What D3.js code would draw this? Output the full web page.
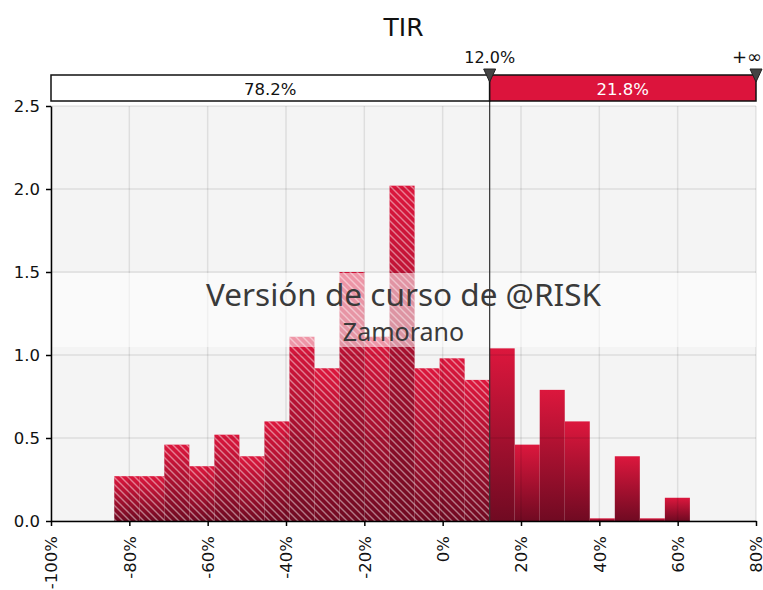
<!DOCTYPE html>
<html>
<head>
<meta charset="utf-8">
<script src="https://cdn.jsdelivr.net/npm/d3@7"></script>
<style>
  body { margin: 0; background: #fff; }
  svg text { font-family: "DejaVu Sans", sans-serif; }
</style>
</head>
<body>
<div id="chart"></div>
<script>
// histogram of TIR, bins in percent
const binEdges = [-83.85, -77.46, -71.07, -64.68, -58.29, -51.90, -45.51, -39.12, -32.73, -26.34,
  -19.95, -13.56, -7.17, -0.78, 5.61, 12.00, 18.39, 24.78, 31.17, 37.56, 43.95, 50.34, 56.73, 63.12];
const density = [0.27, 0.27, 0.46, 0.33, 0.52, 0.39, 0.60, 1.11, 0.92, 1.50, 1.11, 2.02,
  0.92, 0.98, 0.85, 1.04, 0.46, 0.79, 0.60, 0.016, 0.39, 0.016, 0.14];
const xTicks = [-100, -80, -60, -40, -20, 0, 20, 40, 60, 80];
const yTicks = [0, 0.5, 1.0, 1.5, 2.0, 2.5];
const cutoff = 12.0;
const cutLabels = ["12.0%", "+\u221e"];
const bandLabels = ["78.2%", "21.8%"];
const title = "TIR";
const watermark = ["Versión de curso de @RISK", "Zamorano"];

const W = 763, H = 590;
const margin = { top: 106, right: 7, bottom: 69, left: 51 };
const width = W - margin.left - margin.right,
  height = H - margin.top - margin.bottom;

const bins = density.map((d, i) => ({ x0: binEdges[i], x1: binEdges[i + 1], v: d }));

const root = d3.select("#chart").append("svg")
  .attr("width", W).attr("height", H);

const defs = root.append("defs");
const grad = defs.append("linearGradient").attr("id", "barGrad")
  .attr("x1", 0).attr("y1", 0).attr("x2", 0).attr("y2", 1);
grad.append("stop").attr("offset", "0%").attr("stop-color", "#dc173d");
grad.append("stop").attr("offset", "100%").attr("stop-color", "#700a22");

const pat = defs.append("pattern").attr("id", "hatch")
  .attr("patternUnits", "userSpaceOnUse").attr("width", 7).attr("height", 7);
pat.append("path").attr("d", "M-1,-1 L8,8 M-1,6 L1,8 M6,-1 L8,1")
  .attr("stroke", "#fff").attr("stroke-opacity", 0.45).attr("stroke-width", 1.4);

const svg = root.append("g")
  .attr("transform", "translate(" + margin.left + "," + margin.top + ")");

const x = d3.scaleLinear().domain([-100, 80]).range([0, width]);
const y = d3.scaleLinear().domain([0, 2.5]).range([height, 0]);

// plot background
svg.append("rect").attr("width", width).attr("height", height).attr("fill", "#f4f4f4");

// bars
const bars = svg.append("g");
bars.selectAll("rect.bar")
  .data(bins)
  .enter()
  .append("rect")
  .attr("class", "bar")
  .attr("x", d => x(d.x0))
  .attr("width", d => x(d.x1) - x(d.x0))
  .attr("y", d => y(d.v))
  .attr("height", d => y(0) - y(d.v))
  .attr("fill", "url(#barGrad)");

bars.selectAll("rect.hatch")
  .data(bins.filter(d => d.x1 <= cutoff))
  .enter()
  .append("rect")
  .attr("class", "hatch")
  .attr("x", d => x(d.x0))
  .attr("width", d => x(d.x1) - x(d.x0))
  .attr("y", d => y(d.v))
  .attr("height", d => y(0) - y(d.v))
  .attr("fill", "url(#hatch)");

// grid
const grid = svg.append("g").attr("stroke", "#000").attr("stroke-opacity", 0.09).attr("stroke-width", 1.5);
grid.selectAll("line.gx").data(xTicks).enter().append("line")
  .attr("x1", d => x(d)).attr("x2", d => x(d)).attr("y1", 0).attr("y2", height);
grid.selectAll("line.gy").data(yTicks).enter().append("line")
  .attr("y1", d => y(d)).attr("y2", d => y(d)).attr("x1", 0).attr("x2", width);

// watermark band
svg.append("rect").attr("x", 0).attr("width", width)
  .attr("y", 273 - margin.top).attr("height", 74)
  .attr("fill", "#fff").attr("fill-opacity", 0.55);
svg.append("text").attr("x", width / 2).attr("y", 306 - margin.top)
  .attr("text-anchor", "middle").attr("fill", "#3a3a3a")
  .style("font-family", "'Noto Sans', sans-serif").style("font-size", "31.5px")
  .text(watermark[0]);
svg.append("text").attr("x", width / 2).attr("y", 341 - margin.top)
  .attr("text-anchor", "middle").attr("fill", "#3a3a3a")
  .style("font-family", "'Noto Sans', sans-serif").style("font-size", "25px")
  .text(watermark[1]);

// axes
svg.append("g")
  .attr("transform", "translate(0," + height + ")")
  .call(d3.axisBottom(x).tickValues(xTicks).tickSize(5).tickSizeOuter(0).tickFormat(d => d + "%"))
  .call(g => g.select(".domain").attr("stroke-width", 1.5))
  .call(g => g.selectAll(".tick line").attr("stroke-width", 1.5))
  .selectAll("text")
  .attr("transform", "rotate(-90)")
  .attr("x", -15).attr("y", 0).attr("dy", "0.36em")
  .attr("text-anchor", "end")
  .attr("fill", "#111")
  .style("font-size", "16.5px");

svg.append("g")
  .call(d3.axisLeft(y).tickValues(yTicks).tickSize(5).tickSizeOuter(0).tickPadding(6).tickFormat(d3.format(".1f")))
  .call(g => g.select(".domain").attr("stroke-width", 1.5))
  .call(g => g.selectAll(".tick line").attr("stroke-width", 1.5))
  .selectAll("text")
  .attr("fill", "#111")
  .style("font-size", "16.5px");

// cutoff line
svg.append("line")
  .attr("x1", x(cutoff)).attr("x2", x(cutoff))
  .attr("y1", 75 - margin.top).attr("y2", height)
  .attr("stroke", "#333").attr("stroke-width", 1.2);

// top band
const bandY = 75 - margin.top, bandH = 26;
svg.append("rect").attr("x", 0).attr("y", bandY)
  .attr("width", x(cutoff)).attr("height", bandH)
  .attr("fill", "#fff").attr("stroke", "#111").attr("stroke-width", 1.5);
svg.append("rect").attr("x", x(cutoff)).attr("y", bandY)
  .attr("width", width - x(cutoff)).attr("height", bandH)
  .attr("fill", "#dc143c").attr("stroke", "#111").attr("stroke-width", 1.5);

svg.append("text").attr("x", x(cutoff) / 2).attr("y", bandY + 19.5)
  .attr("text-anchor", "middle").attr("fill", "#111")
  .style("font-size", "16.5px").text(bandLabels[0]);
svg.append("text").attr("x", (x(cutoff) + width) / 2).attr("y", bandY + 19.5)
  .attr("text-anchor", "middle").attr("fill", "#fff")
  .style("font-size", "16.5px").text(bandLabels[1]);

// markers
[x(cutoff), width].forEach(px => {
  svg.append("path")
    .attr("d", "M" + (px - 6) + "," + (69 - margin.top) + "L" + (px + 6) + "," + (69 - margin.top) + "L" + px + "," + (82 - margin.top) + "Z")
    .attr("fill", "#444").attr("stroke", "#222").attr("stroke-width", 1);
});
svg.append("text").attr("x", x(cutoff)).attr("y", 63 - margin.top)
  .attr("text-anchor", "middle").attr("fill", "#111")
  .style("font-size", "16px").text(cutLabels[0]);
svg.append("text").attr("x", width + 6).attr("y", 63 - margin.top)
  .attr("text-anchor", "end").attr("fill", "#111")
  .style("font-size", "18px").text(cutLabels[1]);

// title
svg.append("text").attr("x", width / 2).attr("y", 36 - margin.top)
  .attr("text-anchor", "middle").attr("fill", "#111")
  .style("font-size", "25px").text(title);
</script>
</body>
</html>
